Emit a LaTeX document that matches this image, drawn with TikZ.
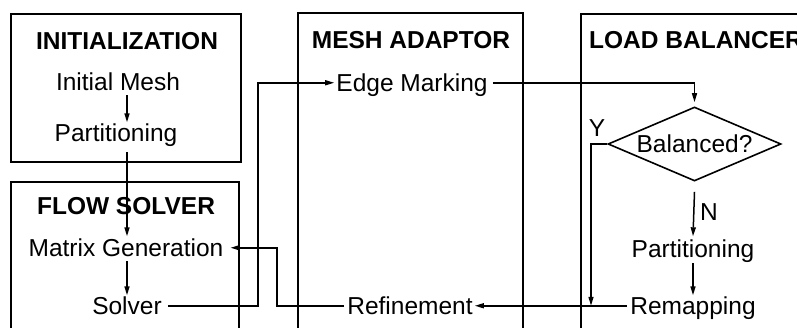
\documentclass[tikz,border=0pt]{standalone}
\usepackage{fontspec}
\setmainfont{Liberation Sans}
\usetikzlibrary{arrows.meta,shapes.geometric}
\begin{document}
\begin{tikzpicture}[x=1pt,y=-1pt,
  box/.style={line width=2pt},
  lbl/.style={font=\fontsize{24.5}{29}\selectfont, inner sep=2pt, text height=16.5pt, text depth=0pt, anchor=base},
  ttl/.style={lbl, font=\fontsize{24.5}{29}\selectfont\bfseries},
  dec/.style={shape=diamond, draw, line width=1.6pt, font=\fontsize{24.5}{29}\selectfont, inner sep=0pt, aspect=2.34, text height=16.5pt, text depth=0pt, minimum width=173pt, minimum height=74pt},
  ln/.style={line width=1.5pt},
  arr/.style={ln, -{Triangle[length=9pt,width=5pt]}},
]
\useasboundingbox (0,0) rectangle (797,327);
\begin{scope}
\clip (0,0) rectangle (797,327);
% boxes
\draw[box] (11,14) rectangle (241,162);
\draw[box] (11,335) -- (11,182) -- (239,182) -- (239,335);
\draw[box] (298,335) -- (298,13) -- (523,13) -- (523,335);
\draw[box] (581,335) -- (581,14) -- (810,14);
% titles
\node[ttl] (tinit) at (127,49) {INITIALIZATION};
\node[ttl] (tflow) at (126,214) {FLOW SOLVER};
\node[ttl] (tmesh) at (411,48) {MESH ADAPTOR};
\node[ttl, anchor=base west] (tlb) at (587,48) {LOAD BALANCER};
\end{scope}
% labels
\node[lbl] (im) at (118,90) {Initial Mesh};
\node[lbl] (p1) at (116,141) {Partitioning};
\node[lbl] (mg) at (126,256) {Matrix Generation};
\node[lbl] (sol) at (127,314) {Solver};
\node[lbl] (em) at (412,91) {Edge Marking};
\node[lbl] (ref) at (410,314) {Refinement};
\node[dec] (bal) at (694.5,144) {Balanced?};
\node[lbl] (ylab) at (597,136) {Y};
\node[lbl] (nlab) at (709,220) {N};
\node[lbl] (p2) at (693,257) {Partitioning};
\node[lbl] (rm) at (693,314) {Remapping};
% column / corner coordinates
\coordinate (c1) at (127,0);
\coordinate (cA) at (258,0);
\coordinate (cB) at (277,0);
\coordinate (cY) at (591,0);
% connectors
\draw[arr] ([yshift=-3pt]im.south -| c1) -- (p1.north -| c1);
\draw[arr] ([yshift=-9pt]p1.south -| c1) -- ([yshift=1pt]mg.north -| c1);
\draw[arr] ([yshift=-3pt]mg.south -| c1) -- (sol.north -| c1);
\draw[arr] ([xshift=4pt]sol.east) -- (cA |- sol.east) -- (cA |- em.west) -- (em.west);
\draw[arr] ([xshift=3pt]em.east) -- (em.east -| bal.north) -- ([yshift=4pt]bal.north);
\draw[arr] (bal.west) -- (cY |- bal.west) -- (cY |- rm.west);
\draw[arr] ([yshift=-10pt]bal.south) -- ([yshift=2pt]p2.north);
\draw[arr] ([yshift=-4pt]p2.south) -- (rm.north);
\draw[arr] ([xshift=-1pt]rm.west) -- (ref.east);
\draw[arr] ([xshift=-1pt]ref.west) -- (cB |- ref.west) -- (cB |- mg.east) -- ([xshift=5pt]mg.east);
\end{tikzpicture}
\end{document}
